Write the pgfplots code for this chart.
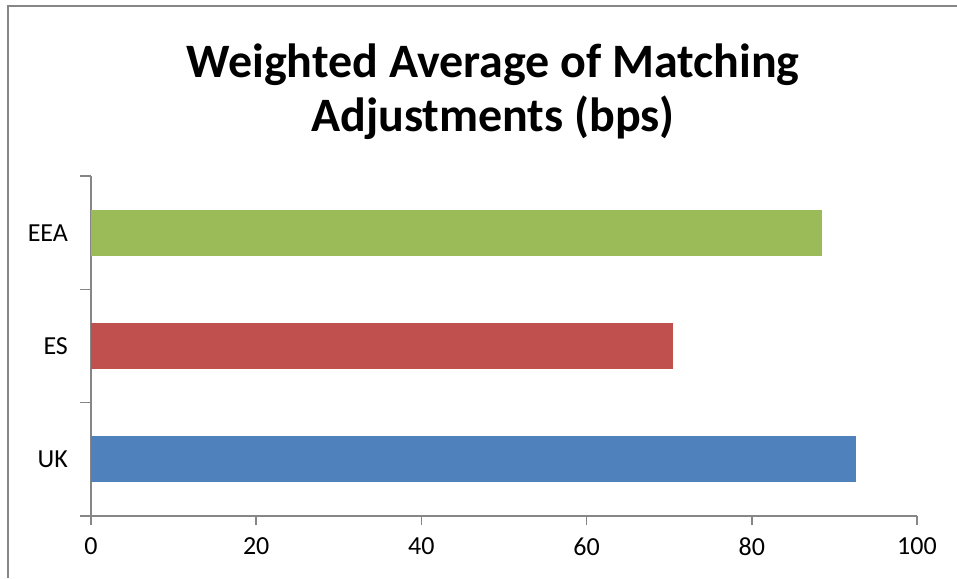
\documentclass[border=0pt]{standalone}
\usepackage{pgfplots}
\pgfplotsset{compat=1.18}
\usepackage{fontspec}
\setmainfont{Carlito}

\definecolor{ukblue}{RGB}{79,129,189}
\definecolor{esred}{RGB}{192,80,77}
\definecolor{eeagreen}{RGB}{155,187,89}
\definecolor{axgrey}{RGB}{134,134,134}

\begin{document}
\begin{tikzpicture}
% frame of the chart area (only left and top edges are visible)
\useasboundingbox (-45.5pt,-31pt) rectangle (433pt,258pt);
\draw[axgrey,line width=0.8pt] (-41.5pt,-31pt) -- (-41.5pt,255pt) -- (433pt,255pt);
\begin{axis}[
    scale only axis,
    width=413pt, height=170pt,
    xbar, bar width=23pt,
    xmin=0, xmax=100,
    ymin=-0.5, ymax=2.5,
    xtick={0,20,40,60,80,100},
    ytick={0,1,2},
    yticklabels={UK,ES,EEA},
    minor ytick={-0.5,0.5,1.5,2.5},
    major y tick style={draw=none},
    tick align=outside,
    major tick length=4.5pt,
    minor tick length=5.5pt,
    axis x line*=bottom,
    axis y line*=left,
    axis line style={axgrey,line width=0.8pt},
    every tick/.style={axgrey,line width=0.8pt},
    tick label style={font=\fontsize{13}{15}\selectfont},
    xticklabel style={yshift=-3pt},
    yticklabel style={xshift=-3.5pt},
    /pgf/number format/assume math mode=true,
    title={Weighted Average of Matching\\[1pt]Adjustments (bps)},
    title style={align=center, font=\bfseries\fontsize{24}{26}\selectfont,
        at={(201pt,206pt)}, anchor=center},
]
\addplot[bar shift=0pt, fill=ukblue, draw=none] coordinates {(92.6,0)};
\addplot[bar shift=0pt, fill=esred, draw=none] coordinates {(70.4,1)};
\addplot[bar shift=0pt, fill=eeagreen, draw=none] coordinates {(88.5,2)};
\end{axis}
\end{tikzpicture}
\end{document}
